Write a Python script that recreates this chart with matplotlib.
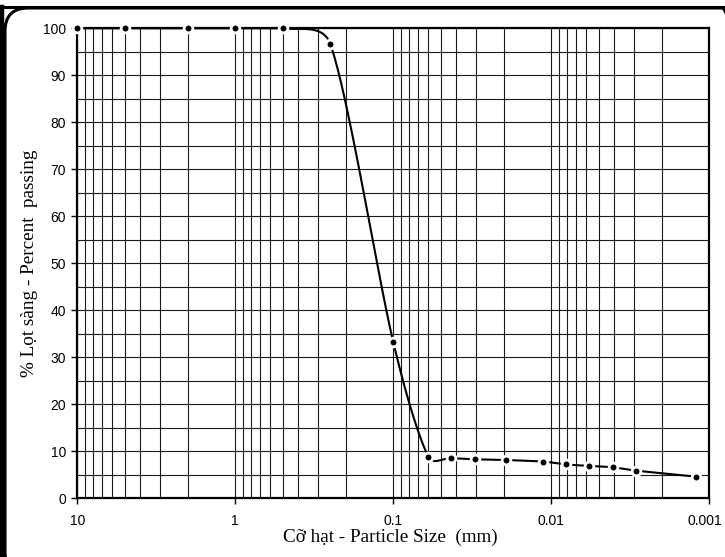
import numpy as np
import matplotlib
matplotlib.use("Agg")
import matplotlib.pyplot as plt
from matplotlib.patches import FancyBboxPatch
from matplotlib.lines import Line2D
from matplotlib.transforms import ScaledTranslation
from matplotlib.ticker import LogLocator, NullFormatter, FixedLocator, MultipleLocator

# ---- data ----
particle_size = [10, 5, 2, 1, 0.5, 0.25, 0.1, 0.06, 0.0431, 0.0304, 0.0194,
                 0.01124, 0.00807, 0.00574, 0.00409, 0.00292, 0.00121]
percent_passing = [100, 100, 100, 100, 100, 96.6, 33.2, 8.85, 8.55, 8.3, 8.15,
                   7.8, 7.2, 6.9, 6.6, 5.9, 4.6]
x_ticks = [10, 1, 0.1, 0.01, 0.001]
x_tick_labels = ["10", "1", "0.1", "0.01", "0.001"]
y_ticks = [0, 10, 20, 30, 40, 50, 60, 70, 80, 90, 100]

W, H, DPI = 725, 557, 100
fig = plt.figure(figsize=(W / DPI, H / DPI), dpi=DPI)
L, R, T, B = 77.3, 709.3, 28.3, 498.3
ax = fig.add_axes([L / W, 1 - B / H, (R - L) / W, (B - T) / H])

ax.set_xscale("log")
ax.set_xlim(10, 0.001)
ax.set_ylim(0, 100)

ax.xaxis.set_major_locator(FixedLocator(x_ticks))
ax.set_xticks(x_ticks)
ax.set_xticklabels(x_tick_labels)
ax.xaxis.set_minor_locator(LogLocator(base=10, subs=np.arange(2, 10)))
ax.xaxis.set_minor_formatter(NullFormatter())
ax.set_yticks(y_ticks)
ax.yaxis.set_minor_locator(MultipleLocator(5))

ax.grid(True, which="both", axis="both", color="#1a1a1a", lw=0.8)
ax.set_axisbelow(True)
ax.tick_params(axis="both", which="major", direction="out", length=4, width=1,
               labelsize=10, pad=4)
ax.tick_params(axis="x", which="major", length=4, pad=7)
ax.tick_params(which="minor", length=0)
for lab in ax.get_xticklabels() + ax.get_yticklabels():
    lab.set_fontfamily("Liberation Sans")
last = ax.get_xticklabels()[-1]
last.set_transform(last.get_transform() + ScaledTranslation(-4 / DPI, 0, fig.dpi_scale_trans))
for s in ax.spines.values():
    s.set_linewidth(1.6)
    s.set_color("black")

# ---- Excel-style smoothed line computed in display space ----
pts = ax.transData.transform(np.column_stack([particle_size, percent_passing]))
n = len(pts)


def limit(vec, seglen, frac=0.45):
    m = np.hypot(*vec)
    cap = frac * seglen
    return vec * (cap / m) if m > cap and m > 0 else vec


curve = [pts[0]]
t = np.linspace(0, 1, 40)[1:]
for i in range(n - 1):
    p0 = pts[i - 1] if i > 0 else pts[i]
    p1 = pts[i]
    p2 = pts[i + 1]
    p3 = pts[i + 2] if i + 2 < n else pts[i + 1]
    seg = np.hypot(*(p2 - p1))
    c1 = p1 + limit((p2 - p0) / 6.0, seg)
    c2 = p2 - limit((p3 - p1) / 6.0, seg)
    for tt in t:
        q = ((1 - tt) ** 3) * p1 + 3 * ((1 - tt) ** 2) * tt * c1 + 3 * (1 - tt) * tt ** 2 * c2 + tt ** 3 * p2
        curve.append(q)
curve = np.array(curve)
cdata = ax.transData.inverted().transform(curve)
ax.plot(cdata[:, 0], np.minimum(cdata[:, 1], 100), color="black", lw=1.5,
        solid_capstyle="round", zorder=3, clip_on=False)
ax.plot(particle_size, percent_passing, linestyle="none", marker="o", ms=6.3,
        mfc="black", mec="white", mew=2, zorder=4, clip_on=False)

ax.set_xlabel("Cỡ hạt - Particle Size  (mm)", family="Liberation Serif", fontsize=13.8)
ax.set_ylabel("% Lọt sàng - Percent  passing", family="Liberation Serif", fontsize=13.8)
ax.xaxis.set_label_coords((390 - L) / (R - L), (B - 529) / (B - T))
ax.yaxis.set_label_coords((38 - L) / (R - L), 0.5)

# outer frame (cropped rounded box)
border = FancyBboxPatch((5 / W, 1 - 575 / H), 740 / W, 567 / H,
                        boxstyle="round,pad=0,rounding_size=0.032",
                        transform=fig.transFigure, fill=False, lw=2.2,
                        edgecolor="black", mutation_aspect=W / H)
fig.patches.append(border)
fig.add_artist(Line2D([0, 1], [1 - 7 / H, 1 - 7 / H], transform=fig.transFigure,
                      color="black", lw=2.2))
fig.add_artist(Line2D([2 / W, 2 / W], [0, 1 - 7 / H], transform=fig.transFigure,
                      color="black", lw=3.2))

fig.savefig("out.png", dpi=DPI)
